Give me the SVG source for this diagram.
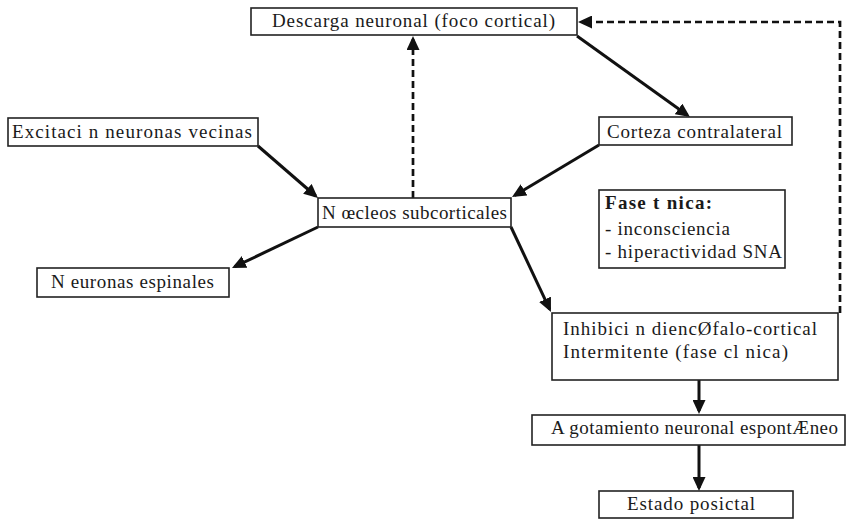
<svg xmlns="http://www.w3.org/2000/svg" width="862" height="520" viewBox="0 0 862 520">
<defs>
<style>
.box{fill:#fff;stroke:#222;stroke-width:1.6}
.t{font-family:"Liberation Serif","Times New Roman",serif;font-size:19px;fill:#1a1a1a}
.b{font-weight:bold}
.c{fill:none;stroke:#111;stroke-width:3}
.d{fill:none;stroke:#111;stroke-width:2.7;stroke-dasharray:7 4}
</style>
<marker id="ah" markerUnits="userSpaceOnUse" markerWidth="14" markerHeight="13" refX="11" refY="6.5" orient="auto">
<path d="M0,0 L14,6.5 L0,13 z" fill="#111"/>
</marker>
</defs>
<g id="connectors">
<line class="c" x1="258" y1="146" x2="315.7" y2="196" marker-end="url(#ah)"/>
<line class="c" x1="599" y1="145" x2="514.6" y2="195.5" marker-end="url(#ah)"/>
<line class="c" x1="318" y1="227" x2="234.7" y2="266.7" marker-end="url(#ah)"/>
<line class="c" x1="511" y1="227" x2="549.7" y2="309.3" marker-end="url(#ah)"/>
<line class="c" x1="577" y1="36" x2="687.5" y2="115.3" marker-end="url(#ah)"/>
<line class="c" x1="699" y1="380" x2="699" y2="411" marker-end="url(#ah)"/>
<line class="c" x1="699" y1="445" x2="699" y2="488" marker-end="url(#ah)"/>
<line class="d" x1="413" y1="198" x2="413" y2="39" marker-end="url(#ah)"/>
<path class="d" d="M840,313 V22 H581" marker-end="url(#ah)"/>
</g>
<g id="descarga">
<rect class="box" x="251" y="8" width="326" height="27"/>
<text class="t" x="272" y="27" textLength="283" lengthAdjust="spacing">Descarga neuronal (foco cortical)</text>
</g>
<g id="excitacion">
<rect class="box" x="8" y="118" width="250" height="28"/>
<text class="t" x="12" y="138" textLength="240" lengthAdjust="spacing">Excitaci n neuronas vecinas</text>
</g>
<g id="corteza">
<rect class="box" x="599" y="117" width="193" height="28"/>
<text class="t" x="607" y="138" textLength="175" lengthAdjust="spacing">Corteza contralateral</text>
</g>
<g id="nucleos">
<rect class="box" x="318" y="198" width="193" height="29"/>
<text class="t" x="322" y="219" textLength="185" lengthAdjust="spacing">N œcleos subcorticales</text>
</g>
<g id="fase-tonica">
<rect class="box" x="599" y="190" width="186" height="78"/>
<text class="t b" x="605" y="209" textLength="107" lengthAdjust="spacing">Fase t  nica:</text>
<text class="t" x="605" y="235" textLength="125" lengthAdjust="spacing">- inconsciencia</text>
<text class="t" x="605" y="258" textLength="177" lengthAdjust="spacing">- hiperactividad SNA</text>
</g>
<g id="neuronas-espinales">
<rect class="box" x="37" y="268" width="192" height="29"/>
<text class="t" x="51" y="288" textLength="163" lengthAdjust="spacing">N euronas espinales</text>
</g>
<g id="inhibicion">
<rect class="box" x="552" y="313" width="286" height="67"/>
<text class="t" x="563" y="335" textLength="254" lengthAdjust="spacing">Inhibici  n diencØfalo-cortical</text>
<text class="t" x="563" y="358" textLength="225" lengthAdjust="spacing">Intermitente (fase cl  nica)</text>
</g>
<g id="agotamiento">
<rect class="box" x="532" y="415" width="313" height="30"/>
<text class="t" x="551" y="434" textLength="287" lengthAdjust="spacing">A gotamiento neuronal espontÆneo</text>
</g>
<g id="estado">
<rect class="box" x="599" y="491" width="194" height="27"/>
<text class="t" x="627" y="510" textLength="128" lengthAdjust="spacing">Estado posictal</text>
</g>
</svg>
